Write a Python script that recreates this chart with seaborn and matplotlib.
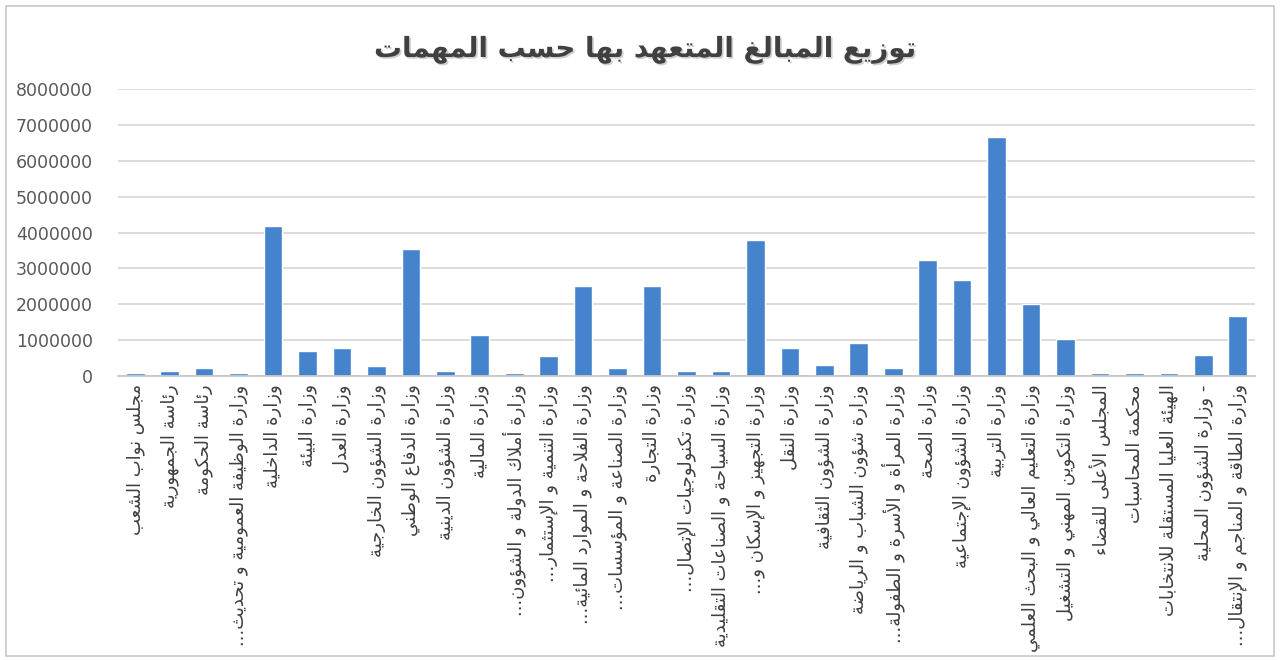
import numpy as np
import matplotlib
matplotlib.use("Agg")
import matplotlib.pyplot as plt
import matplotlib.patheffects as pe
from matplotlib.patches import Rectangle
from matplotlib.ticker import FuncFormatter
import seaborn as sns

title = "توزيع المبالغ المتعهد بها حسب المهمات"

missions = [
    "مجلس نواب الشعب",
    "رئاسة الجمهورية",
    "رئاسة الحكومة",
    "وزارة الوظيفة العمومية و تحديث...",
    "وزارة الداخلية",
    "وزارة البيئة",
    "وزارة العدل",
    "وزارة الشؤون الخارجية",
    "وزارة الدفاع الوطني",
    "وزارة الشؤون الدينية",
    "وزارة المالية",
    "وزارة أملاك الدولة و الشؤون...",
    "وزارة التنمية و الإستثمار...",
    "وزارة الفلاحة و الموارد المائية...",
    "وزارة الصناعة و المؤسسات...",
    "وزارة التجارة",
    "وزارة تكنولوجيات الإتصال...",
    "وزارة السياحة و الصناعات التقليدية",
    "وزارة التجهيز و الإسكان و...",
    "وزارة النقل",
    "وزارة الشؤون الثقافية",
    "وزارة شؤون الشباب و الرياضة",
    "وزارة المرأة و الأسرة و الطفولة...",
    "وزارة الصحة",
    "وزارة الشؤون الإجتماعية",
    "وزارة التربية",
    "وزارة التعليم العالي و البحث العلمي",
    "وزارة التكوين المهني و التشغيل",
    "المجلس الأعلى للقضاء",
    "محكمة المحاسبات",
    "الهيئة العليا المستقلة للانتخابات",
    "- وزارة الشؤون المحلية",
    "وزارة الطاقة و المناجم و الإنتقال...",
]

amounts = [
    90000, 140000, 220000, 90000, 4190000, 710000, 780000, 280000,
    3540000, 140000, 1150000, 80000, 570000, 2520000, 230000, 2520000,
    140000, 140000, 3800000, 780000, 310000, 920000, 230000, 3240000,
    2670000, 6660000, 2020000, 1030000, 90000, 90000, 90000, 590000,
    1660000,
]

y_ticks = [0, 1000000, 2000000, 3000000, 4000000, 5000000, 6000000, 7000000, 8000000]


# --- minimal arabic shaping (presentation forms) + visual order ---
FORMS = {}
_counts = ([1, 2, 2, 2, 2, 4, 2, 4, 2, 4, 4, 4, 4, 4, 2, 2, 2, 2, 4, 4, 4, 4, 4, 4, 4, 4]
           + [4, 4, 4, 4, 4, 4, 4, 2, 2, 4])
_letters = list(range(0x0621, 0x063B)) + list(range(0x0641, 0x064B))
_code = 0xFE80
for cp, cnt in zip(_letters, _counts):
    FORMS[chr(cp)] = (_code, cnt)
    _code += cnt
LAM_ALEF = {"\u0622": 0xFEF5, "\u0623": 0xFEF7, "\u0625": 0xFEF9, "\u0627": 0xFEFB}


def shape(text):
    out = []
    i = 0
    n = len(text)
    while i < n:
        c = text[i]
        if c not in FORMS:
            out.append(c)
            i += 1
            continue
        prev = text[i - 1] if i > 0 else ""
        joins_prev = prev in FORMS and FORMS[prev][1] == 4
        if c == "\u0644" and i + 1 < n and text[i + 1] in LAM_ALEF:
            out.append(chr(LAM_ALEF[text[i + 1]] + (1 if joins_prev else 0)))
            i += 2
            continue
        nxt = text[i + 1] if i + 1 < n else ""
        base, cnt = FORMS[c]
        joins_next = cnt == 4 and nxt in FORMS and FORMS[nxt][1] >= 2
        if cnt == 1:
            k = 0
        elif joins_prev and joins_next:
            k = 3
        elif joins_prev:
            k = 1
        elif joins_next:
            k = 2
        else:
            k = 0
        out.append(chr(base + k))
        i += 1
    return "".join(reversed(out))


labels = [shape(m) for m in missions]

sns.set_style("white")
plt.rcParams["font.family"] = ["DejaVu Sans"]

fig = plt.figure(figsize=(12.81, 6.60), dpi=100)
ax = fig.add_axes([118 / 1281, 1 - 376 / 660, 1137 / 1281, 287 / 660])

sns.barplot(x=labels, y=amounts, color="#4584cd", saturation=1, width=0.54, ax=ax)

ax.set_ylim(0, 8000000)
ax.set_xlim(-0.5, len(labels) - 0.5)
ax.set_yticks(y_ticks)
ax.yaxis.set_major_formatter(FuncFormatter(lambda v, p: f"{v:.0f}"))
ax.yaxis.grid(True, color="#d9d9d9", lw=1.3)
ax.set_axisbelow(True)
for s in ["top", "right", "left"]:
    ax.spines[s].set_visible(False)
ax.spines["bottom"].set_color("#c8c8c8")
ax.spines["bottom"].set_linewidth(1.3)
ax.tick_params(axis="both", length=0)
ax.tick_params(axis="y", labelsize=12.5, labelcolor="#595959", pad=18)
ax.tick_params(axis="x", labelsize=13, labelcolor="#404040", pad=6)
for t in ax.get_xticklabels():
    t.set_rotation(90)
    t.set_va("top")
    t.set_ha("center")

fig.text(645 / 1281, 1 - 50 / 660, shape(title), ha="center", va="center",
         fontsize=20, fontweight="bold", color="#404040",
         path_effects=[pe.withSimplePatchShadow(offset=(1.2, -1.2), shadow_rgbFace="#b0b0b0", alpha=0.6)])

fig.patches.append(Rectangle((6 / 1281, 4 / 660), 1268 / 1281, 650 / 660, transform=fig.transFigure,
                             fill=False, edgecolor="#c8c8c8", lw=1.2))

fig.savefig("out.png", dpi=100)
